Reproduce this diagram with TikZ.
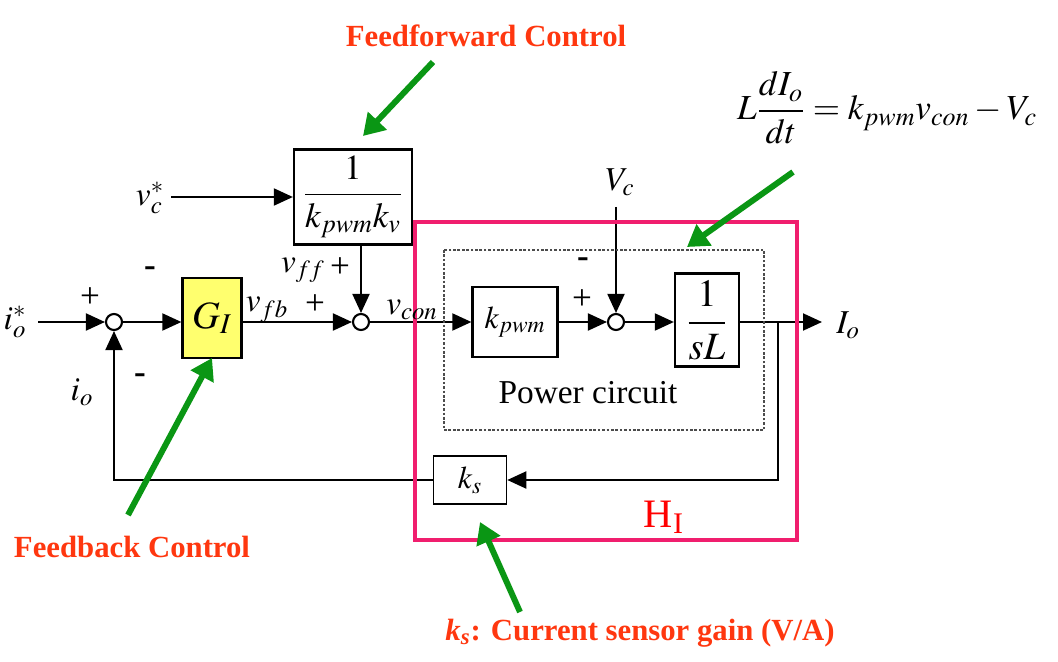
\documentclass[tikz,border=0pt]{standalone}
\usepackage{amsmath}
\usepackage{mathptmx}
\usepackage{fontspec}
\setmainfont{Liberation Serif}
\usetikzlibrary{arrows.meta}

\definecolor{hibox}{RGB}{240,30,110}
\definecolor{notered}{RGB}{255,55,15}
\definecolor{notegreen}{RGB}{10,150,20}
\definecolor{giyellow}{RGB}{255,255,110}

\begin{document}
\begin{tikzpicture}[x=0.02cm,y=-0.02cm,
  blk/.style={draw,line width=1.3pt,inner sep=0pt,font=\fontsize{18}{22}\selectfont},
  sumnode/.style={draw,circle,line width=1.2pt,minimum size=0.32cm,inner sep=0pt,fill=white},
  sig/.style={line width=1.1pt,-{Triangle[length=0.38cm,width=0.34cm]}},
  lbl/.style={inner sep=0pt,font=\fontsize{19}{22}\selectfont},
  sgn/.style={inner sep=0pt,font=\fontsize{20}{22}\selectfont},
  note/.style={inner sep=0pt,text=notered,font=\bfseries\fontsize{17.5}{21}\selectfont},
  pointer/.style={notegreen,line width=3.4pt,-{Triangle[length=0.42cm,width=0.5cm]}}]
  \useasboundingbox (0,0) rectangle (1058,662);

  \node[sumnode] (sum1) at (114,322) {};
  \node[sumnode] (sum2) at (361,322) {};
  \node[sumnode] (sum3) at (616,322) {};
  \node[blk,fill=giyellow,minimum width=1.18cm,minimum height=1.6cm,font=\fontsize{22}{24}\selectfont] (gi) at (212,318) {$G_I$};
  \node[blk,minimum width=2.36cm,minimum height=1.9cm,font=\fontsize{20}{24}\selectfont] (ff) at (353,197) {$\dfrac{1}{k_{pwm}k_v}$};
  \node[blk,minimum width=1.7cm,minimum height=1.4cm] (kpwm) at (515,322) {$k_{pwm}$};
  \node[blk,minimum width=1.28cm,minimum height=1.86cm,font=\fontsize{22}{24}\selectfont] (sL) at (707,320) {$\dfrac{1}{sL}$};
  \node[blk,line width=0.9pt,minimum width=1.46cm,minimum height=0.96cm] (ks) at (470,480) {$k_s$};

  \coordinate (in) at (38,322);
  \coordinate (vcin) at (171,197);
  \coordinate (vcdown) at (616,207);
  \coordinate (out) at (822,322);
  \coordinate (br) at (778,322);

  \draw[sig] (in) -- (sum1);
  \draw[sig] (sum1) -- (sum1 -| gi.west);
  \draw[sig] (sum1 -| gi.east) -- (sum2);
  \draw[sig] (vcin) -- (ff);
  \draw[sig] (ff.south -| sum2) -- (sum2);
  \draw[sig] (sum2) -- (kpwm);
  \draw[sig] (kpwm) -- (sum3);
  \draw[sig] (vcdown) -- (sum3);
  \draw[sig] (sum3) -- (sum3 -| sL.west);
  \draw[sig] (sum3 -| sL.east) -- (out);
  \draw[sig] (br) |- (ks);
  \draw[sig] (ks) -| (sum1);

  \draw[gray!60!black,line width=1.5pt,densely dotted] (444,250) rectangle (764,430);
  \node[lbl] (pc) at (588,393) {Power circuit};
  \draw[hibox,line width=2.3pt] (415,222) rectangle (797,540);
  \node[inner sep=0pt,text=red,font=\fontsize{23}{26}\selectfont] (hi) at (664,517) {H\textsubscript{I}};

  \node[lbl] (io*) at (15,322) {$i_o^*$};
  \node[sgn] at (90,298) {+};
  \node[sgn] at (150,272) {\textbf{-}};
  \node[sgn] at (140,379) {\textbf{-}};
  \node[lbl] (io) at (82,392) {$i_o$};
  \node[lbl] (vfb) at (267,310) {$v_{fb}$};
  \node[sgn] at (315,305) {+};
  \node[lbl] (vff) at (303,270) {$v_{ff}$};
  \node[sgn] at (340,268) {+};
  \node[lbl] (vc*) at (150,198) {$v_c^*$};
  \node[lbl] (vcon) at (412,310) {$v_{con}$};
  \node[sgn] at (582,300) {+};
  \node[sgn] at (583,263) {\textbf{-}};
  \node[lbl] (Vc) at (620,182) {$V_c$};
  \node[lbl] (Io) at (848,325) {$I_o$};
  \node[inner sep=0pt,font=\fontsize{20}{24}\selectfont] (eq) at (887,108) {$L\dfrac{dI_o}{dt} = k_{pwm}v_{con} - V_c$};

  \node[note] (ffnote) at (486,36) {Feedforward Control};
  \node[note] (fbnote) at (132,547) {Feedback Control};
  \node[note] (ksnote) at (640,633) {\textit{k\textsubscript{s}}: Current sensor gain (V/A)};

  \coordinate (fftail) at (433,62);
  \coordinate (fftip) at (363,136);
  \coordinate (eqtail) at (793,172);
  \coordinate (eqtip) at (687,247);
  \coordinate (fbtail) at (128,515);
  \coordinate (fbtip) at (212,358);
  \coordinate (kstail) at (520,612);
  \coordinate (kstip) at (480,522);
  \draw[pointer] (fftail) -- (fftip);
  \draw[pointer] (eqtail) -- (eqtip);
  \draw[pointer] (fbtail) -- (fbtip);
  \draw[pointer] (kstail) -- (kstip);
\end{tikzpicture}
\end{document}
